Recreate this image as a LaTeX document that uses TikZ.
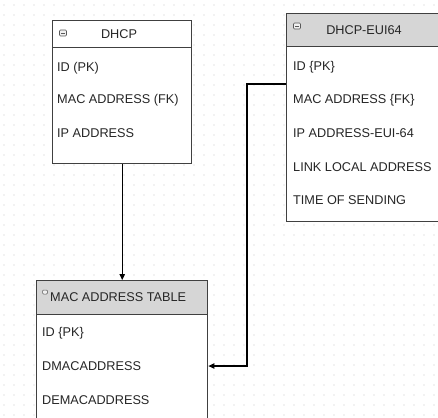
\documentclass[tikz,border=0pt]{standalone}
\usepackage{fontspec}
\setmainfont{Liberation Sans}
\usetikzlibrary{positioning, arrows.meta}

\tikzset{
	table/.style = {draw = black!75, line width = 1.4pt, fill = white, anchor = north west, inner sep = 0pt},
	head/.style = {draw = black!75, line width = 1.4pt, fill = black!16, anchor = north west, inner sep = 0pt},
	title/.style = {inner sep = 0pt, text = black!85, font = \fontsize{12.7}{13}\selectfont},
	row/.style = {anchor = west, inner sep = 0pt, text = black!85, font = \fontsize{12.7}{13}\selectfont},
	fold/.style = {draw = black!65, fill = black!6, line width = 0.6pt, rounded corners = 1pt, minimum width = 7pt, minimum height = 6pt, inner sep = 0pt},
	link/.style = {draw = black, line width = 1.1pt, -{Triangle[length = 6pt, width = 5.5pt]}},
	dot/.style = {fill = black!22}
}

\begin{document}
\begin{tikzpicture}[x = 1pt, y = -1pt]
		\useasboundingbox (0, 0) rectangle (438, 417);
		\clip (0, 0) rectangle (438, 417);

		% dotted canvas
		\foreach \x in {4, 14, ..., 434}
			\foreach \y in {5, 15, ..., 415}
				\fill [dot] (\x, \y) circle (0.55pt);

		% DHCP
		\node [table, minimum width = 139pt, minimum height = 143pt] (dhcp) at (52, 20) {};
		\node [head, fill = white, minimum width = 139pt, minimum height = 27pt] (dhcp head) at (dhcp.north west) {};
		\node [fold] (dhcp fold) at (63, 33) {};
		\draw [black!65, line width = 0.6pt] ([xshift = -2pt] dhcp fold.center) -- ([xshift = 2pt] dhcp fold.center);
		\node [title] (dhcp name) at (119, 34) {DHCP};
		\node [row] (dhcp-1) at (57, 68) {ID (PK)};
		\node [row] (dhcp-2) at (57, 100) {MAC ADDRESS (FK)};
		\node [row] (dhcp-3) at (57, 133) {IP ADDRESS};

		% DHCP-EUI64
		\node [table, minimum width = 175pt, minimum height = 208pt] (eui) at (286, 13) {};
		\node [head, minimum width = 175pt, minimum height = 33pt] (eui head) at (eui.north west) {};
		\node [fold] (eui fold) at (297, 26) {};
		\draw [black!65, line width = 0.6pt] ([xshift = -2pt] eui fold.center) -- ([xshift = 2pt] eui fold.center);
		\node [title] (eui name) at (364, 30) {DHCP-EUI64};
		\node [row] (eui-1) at (293, 67) {ID \{PK\}};
		\node [row] (eui-2) at (293, 100) {MAC ADDRESS \{FK\}};
		\node [row] (eui-3) at (293, 133) {IP ADDRESS-EUI-64};
		\node [row] (eui-4) at (293, 167) {LINK LOCAL ADDRESS};
		\node [row] (eui-5) at (293, 200) {TIME OF SENDING};

		% MAC ADDRESS TABLE
		\node [table, minimum width = 171pt, minimum height = 170pt] (mac) at (36, 280) {};
		\node [head, minimum width = 171pt, minimum height = 34pt] (mac head) at (mac.north west) {};
		\node [fold, minimum width = 5pt, minimum height = 4pt, line width = 0.5pt] (mac fold) at (45, 292) {};
		\node [row] (mac name) at (50, 297) {MAC ADDRESS TABLE};
		\node [row] (mac-1) at (42, 333) {ID \{PK\}};
		\node [row] (mac-2) at (42, 366) {DMACADDRESS};
		\node [row] (mac-3) at (42, 400) {DEMACADDRESS};

		% relations
		\coordinate (tap) at (286, 84);
		\coordinate (jog) at (247, 84);
		\draw [link] (dhcp.south) -- (mac.north);
		\draw [link] (tap) -- (jog) |- (mac.east |- mac-2);
	\end{tikzpicture}
\end{document}
